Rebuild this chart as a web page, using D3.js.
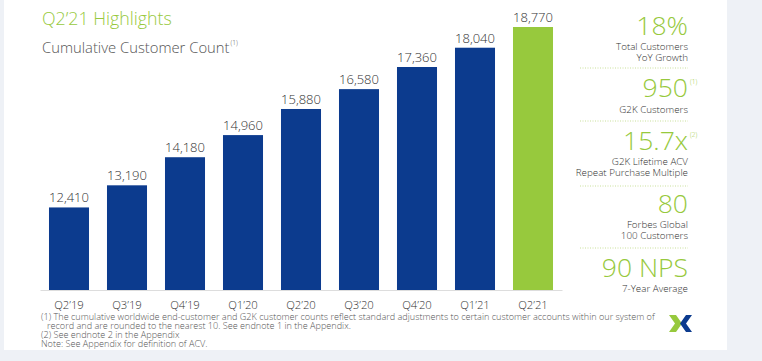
<!DOCTYPE html>
<html>
<head>
<meta charset="utf-8">
<script src="https://cdn.jsdelivr.net/npm/d3@7"></script>
<style>
  body { margin: 0; background: #eef1f6; }
  svg { display: block; font-family: "Open Sans", Lato, sans-serif; font-weight: 300; }
</style>
</head>
<body>
<svg width="762" height="361"></svg>
<script>
// quarterly cumulative customer counts
const quarters = ["Q2'19", "Q3'19", "Q4'19", "Q1'20", "Q2'20", "Q3'20", "Q4'20", "Q1'21", "Q2'21"];
const customers = [12410, 13190, 14180, 14960, 15880, 16580, 17360, 18040, 18770];

// side panel highlights
const hlValues = ["18%", "950", "15.7x", "80", "90 NPS"];
const hlNotes = ["", "(1)", "(2)", "", ""];
const hlLabels = [["Total Customers", "YoY Growth"], ["G2K Customers"], ["G2K Lifetime ACV", "Repeat Purchase Multiple"], ["Forbes Global", "100 Customers"], ["7-Year Average"]];

const footnotes = [
  "(1) The cumulative worldwide end-customer and G2K customer counts reflect standard adjustments to certain customer accounts within our system of",
  "record and are rounded to the nearest 10. See endnote 1 in the Appendix.",
  "(2) See endnote 2 in the Appendix",
  "Note: See Appendix for definition of ACV."
];

const blue = "#0c3b8e", green = "#97c93d";

const svg = d3.select("svg");

// white card
svg.append("rect").attr("x", 4).attr("y", 0).attr("width", 723).attr("height", 350).attr("fill", "#fff");

svg.append("text").attr("x", 42).attr("y", 25)
  .attr("fill", green).attr("font-size", 17.8).text("Q2\u201921 Highlights");
const sub = svg.append("text").attr("x", 42).attr("y", 53)
  .attr("fill", "#555").attr("font-size", 14.8).text("Cumulative Customer Count");
sub.append("tspan").attr("font-size", 6.5).attr("dy", -8).attr("dx", 1).text("(1)");

const x = d3.scaleBand()
  .domain(quarters)
  .range([40, 562])
  .paddingInner(0.31)
  .paddingOuter(0.155);

const y = d3.scaleLinear()
  .domain([9500, 18770])
  .range([290, 27]);

const g = svg.append("g");

g.selectAll("rect.bar")
  .data(customers)
  .enter().append("rect")
    .attr("class", "bar")
    .attr("x", (d, i) => x(quarters[i]))
    .attr("y", d => y(d))
    .attr("width", x.bandwidth())
    .attr("height", d => y(9500) - y(d))
    .attr("fill", (d, i) => i === customers.length - 1 ? green : blue);

g.selectAll("text.val")
  .data(customers)
  .enter().append("text")
    .attr("class", "val")
    .attr("x", (d, i) => x(quarters[i]) + x.bandwidth() / 2)
    .attr("y", d => y(d) - 5)
    .attr("text-anchor", "middle")
    .attr("fill", "#333")
    .attr("font-size", 13)
    .text(d => d3.format(",")(d));

const axis = svg.append("g")
  .attr("transform", "translate(0,290)")
  .call(d3.axisBottom(x).tickSize(0).tickPadding(11));
axis.select(".domain").attr("stroke", "#ddd");
axis.selectAll("text").attr("fill", "#333").attr("font-size", 11.3)
  .attr("font-family", "\"Open Sans\", Lato, sans-serif")
  .text(d => d.replace("'", "\u2019"));

// right panel
const rx = 688;
const valueY = [35, 97, 150, 213, 277];
const labelY = [50, 113, 165, 228, 292];
const sepY = [68, 121, 186, 248];

hlValues.forEach((v, i) => {
  svg.append("text").attr("x", rx).attr("y", valueY[i])
    .attr("text-anchor", "end").attr("fill", green)
    .attr("font-size", 26.5).text(v);
  if (hlNotes[i]) {
    svg.append("text").attr("x", rx + 2).attr("y", valueY[i] - 13)
      .attr("fill", green).attr("font-size", 6.5).text(hlNotes[i]);
  }
  hlLabels[i].forEach((l, j) => {
    svg.append("text").attr("x", rx).attr("y", labelY[i] + j * 11)
      .attr("text-anchor", "end").attr("fill", "#333")
      .attr("font-size", 9.8).text(l);
  });
});

sepY.forEach(s => {
  svg.append("line").attr("x1", 580).attr("x2", rx).attr("y1", s).attr("y2", s)
    .attr("stroke", "#c9e09b").attr("stroke-width", 1).attr("stroke-dasharray", "1,1.5");
});

// footnotes
const fnX = [41, 47, 41, 41];
const fnY = [320, 329, 338, 347];
footnotes.forEach((f, i) => {
  svg.append("text").attr("x", fnX[i]).attr("y", fnY[i])
    .attr("fill", "#555").attr("font-size", 9.1).text(f);
});

// logo
const logo = svg.append("g").attr("transform", "translate(669,315)");
logo.append("path").attr("d", "M0,0 L7,0 L13,8.5 L7,17 L0,17 L6,8.5 Z").attr("fill", green);
logo.append("path").attr("d", "M23,0 L17,0 L11,8.5 L17,17 L23,17 L17,8.5 Z").attr("fill", blue);
</script>
</body>
</html>
